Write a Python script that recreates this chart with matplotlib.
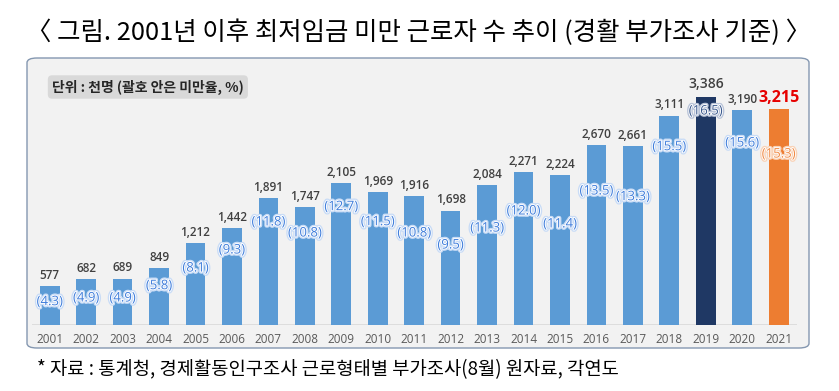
import matplotlib
matplotlib.use('Agg')
import matplotlib.pyplot as plt
import matplotlib.patheffects as pe
from matplotlib.patches import FancyBboxPatch

years = ['2001', '2002', '2003', '2004', '2005', '2006', '2007', '2008', '2009', '2010',
         '2011', '2012', '2013', '2014', '2015', '2016', '2017', '2018', '2019', '2020', '2021']
workers = [577, 682, 689, 849, 1212, 1442, 1891, 1747, 2105, 1969,
           1916, 1698, 2084, 2271, 2224, 2670, 2661, 3111, 3386, 3190, 3215]
rates = [4.3, 4.9, 4.9, 5.8, 8.1, 9.3, 11.8, 10.8, 12.7, 11.5,
         10.8, 9.5, 11.3, 12.0, 11.4, 13.5, 13.3, 15.5, 16.5, 15.6, 15.3]

# where the (rate) labels sit, in bar units (hand placed in the original)
rate_label_y = [346, 401, 401, 584, 846, 1114, 1530, 1366, 1757, 1534,
                1366, 1188, 1440, 1693, 1500, 1990, 1905, 2648, 3178, 2703, 2539]

title = '〈 그림. 2001년 이후 최저임금 미만 근로자 수 추이 (경활 부가조사 기준) 〉'
unit_note = '단위 : 천명 (괄호 안은 미만율, %)'
source = '* 자료 : 통계청, 경제활동인구조사 근로형태별 부가조사(8월) 원자료, 각연도'

kr = ['Noto Sans CJK KR', 'DejaVu Sans']
num_font = 'Open Sans'
W, H = 839, 391

fig = plt.figure(figsize=(W / 100, H / 100), dpi=100)
fig.patch.set_facecolor('white')

# rounded grey panel
panel = FancyBboxPatch((27 / W, 1 - 348 / H), (809 - 27) / W, (348 - 58) / H,
                       boxstyle='round,pad=0,rounding_size=0.012', transform=fig.transFigure,
                       facecolor='#f2f2f2', edgecolor='#8497b0', linewidth=1.0, zorder=-5)
fig.patches.append(panel)

fig.text(419 / W, 1 - 33 / H, title, ha='center', va='center', fontsize=18.3,
         family=kr, fontweight='medium', color='black')
fig.text(37 / W, 1 - 370 / H, source, ha='left', va='center', fontsize=13.5,
         family=kr, color='black')
fig.text(52 / W, 1 - 87 / H, unit_note, ha='left', va='center', fontsize=10,
         family=kr, fontweight='bold', color='#262626',
         bbox=dict(boxstyle='round,pad=0.3,rounding_size=0.3', fc='#d9d9d9', ec='none'))

ax_l, ax_r = 31.5, 796.9
base_y = 325
ymax = 3600
px_per = 228 / 3386
top_y = base_y - ymax * px_per
ax = fig.add_axes([ax_l / W, 1 - base_y / H, (ax_r - ax_l) / W, (base_y - top_y) / H])
ax.set_facecolor('none')
ax.set_xlim(-0.5, len(years) - 0.5)
ax.set_ylim(0, ymax)

colors = ['#5b9bd5'] * len(years)
colors[years.index('2019')] = '#1f3864'
colors[years.index('2021')] = '#ed7d31'
x = list(range(len(years)))
ax.bar(x, workers, width=0.54, color=colors, zorder=2)
ax.axhline(0, color='#d9d9d9', lw=1.2, zorder=1)

for i, (v, r, ly) in enumerate(zip(workers, rates, rate_label_y)):
    lbl = f'{v:,}'
    if years[i] == '2021':
        ax.annotate(lbl, (i, v), xytext=(0, 1.5), textcoords='offset points', ha='center',
                    va='bottom', fontsize=11.5, fontweight='bold', color='#e60000',
                    family=num_font)
    elif years[i] == '2019':
        ax.annotate(lbl, (i, v), xytext=(0, 4), textcoords='offset points', ha='center',
                    va='bottom', fontsize=10, fontweight='semibold', color='#404040',
                    family=num_font)
    else:
        ax.annotate(lbl, (i, v), xytext=(0, 3), textcoords='offset points', ha='center',
                    va='bottom', fontsize=8.5, fontweight='semibold', color='#404040',
                    family=num_font)

    # glow look: coloured text, thin white edge, pale halo
    if years[i] == '2021':
        fc, glow = '#f08a45', '#f9d3b8'
    elif years[i] == '2019':
        fc, glow = '#3b5a8f', '#b8c3d8'
    else:
        fc, glow = '#3f7ddb', '#c9dcf6'
    ax.text(i, ly, f'({r})', ha='center', va='center', fontsize=9.5, color=fc,
            family=num_font, zorder=4,
            path_effects=[pe.withStroke(linewidth=3.2, foreground=glow),
                          pe.withStroke(linewidth=1.3, foreground='white')])

ax.set_xticks(x)
ax.set_xticklabels(years, fontsize=8.5, color='#595959', family=num_font)
ax.tick_params(axis='x', length=0, pad=6)
ax.set_yticks([])
for s in ax.spines.values():
    s.set_visible(False)

plt.savefig('out.png', dpi=100)
